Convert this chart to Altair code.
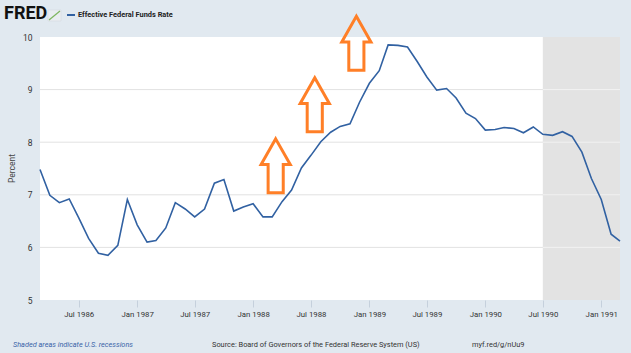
import altair as alt
import pandas as pd

# ---------------- data ----------------
months = pd.date_range("1986-03-01", "1991-03-01", freq="MS").strftime("%Y-%m-%d").tolist()
rates = [7.48, 6.99, 6.85, 6.92, 6.56, 6.17, 5.89, 5.85, 6.04, 6.91,
         6.43, 6.10, 6.13, 6.37, 6.85, 6.73, 6.58, 6.73, 7.22, 7.29, 6.69, 6.77,
         6.83, 6.58, 6.58, 6.87, 7.09, 7.51, 7.75, 8.01, 8.19, 8.30, 8.35, 8.76,
         9.12, 9.36, 9.85, 9.84, 9.81, 9.53, 9.24, 8.99, 9.02, 8.84, 8.55, 8.45,
         8.23, 8.24, 8.28, 8.26, 8.18, 8.29, 8.15, 8.13, 8.20, 8.11, 7.81, 7.31,
         6.91, 6.25, 6.12]

recession_start = ["1990-07-01"]
recession_end = ["1991-03-01"]

grid_levels = [6, 7, 8, 9]
y_ticks = [5, 6, 7, 8, 9, 10]
x_tick_dates = [(1986, 7), (1987, 1), (1987, 7), (1988, 1), (1988, 7), (1989, 1),
                (1989, 7), (1990, 1), (1990, 7), (1991, 1)]

arrow_dates = ["1988-03-12", "1988-07-13", "1988-11-21"]
arrow_levels = [7.55, 8.71, 9.88]

series_name = "Effective Federal Funds Rate"
y_title = "Percent"
logo_text = "FRED"
note_left = "Shaded areas indicate U.S. recessions"
note_mid = "Source: Board of Governors of the Federal Reserve System (US)"
note_right = "myf.red/g/nUu9"

# ---------------- styling ----------------
BG = "#E1E9F0"
LINE = "#3161A2"
ORANGE = "#FF7F27"
FONT = "Roboto"

df = pd.DataFrame({"date": months, "rate": rates})
rec = pd.DataFrame({"start": recession_start, "end": recession_end})
grid = pd.DataFrame({"level": grid_levels})
rec_grid = pd.DataFrame([{"start": s, "end": e, "level": g}
                         for s, e in zip(recession_start, recession_end) for g in grid_levels])
arrows = pd.DataFrame({"date": arrow_dates, "level": arrow_levels})

xscale = alt.Scale(domain=[alt.DateTime(year=1986, month=3, date=1),
                           alt.DateTime(year=1991, month=3, date=1)], nice=False)
yscale = alt.Scale(domain=[5, 10], nice=False, zero=False)

x_axis = alt.Axis(values=[alt.DateTime(year=y, month=m, date=1) for y, m in x_tick_dates],
                  format="%b %Y", labelFont=FONT, labelFontSize=7.8, labelColor="#333333",
                  tickSize=7, tickColor="#C5D0DC", labelPadding=3, domain=False, grid=False,
                  labelFlush=False, title=None)
y_axis = alt.Axis(values=y_ticks, labelFont=FONT, labelFontSize=8.5, labelColor="#333333",
                  tickSize=0, labelPadding=8, domain=False, grid=False,
                  title=y_title, titleFont=FONT, titleFontSize=8.5, titleFontWeight="normal",
                  titleColor="#444444", titleX=-29, titleY=131, titleAngle=270,
                  titleAlign="center", titleBaseline="middle")

shade = alt.Chart(rec).mark_rect(color="#E3E3E3").encode(
    x=alt.X("start:T", scale=xscale, axis=x_axis),
    x2="end:T",
    y=alt.value(0), y2=alt.value(263),
)

grid_rules = alt.Chart(grid).mark_rule(color="#E2E2E2", strokeWidth=1).encode(
    y=alt.Y("level:Q", scale=yscale, axis=y_axis),
    x=alt.value(0), x2=alt.value(580),
)

rec_rules = alt.Chart(rec_grid).mark_rule(color="#F2F2F2", strokeWidth=1).encode(
    x=alt.X("start:T", scale=xscale), x2="end:T",
    y=alt.Y("level:Q", scale=yscale),
)

line = alt.Chart(df).mark_line(color=LINE, strokeWidth=1.6).encode(
    x=alt.X("date:T", scale=xscale),
    y=alt.Y("rate:Q", scale=yscale),
)

ARROW_PATH = "M0,-1 L0.54,-0.05 L0.28,-0.05 L0.28,1 L-0.28,1 L-0.28,-0.05 L-0.54,-0.05 Z"
arrow_marks = alt.Chart(arrows).mark_point(
    shape=ARROW_PATH, filled=False, stroke=ORANGE, strokeWidth=3, size=2916,
    opacity=1, strokeJoin="miter", strokeMiterLimit=10,
).encode(
    x=alt.X("date:T", scale=xscale),
    y=alt.Y("level:Q", scale=yscale),
)


def label(txt, x, y, **kw):
    return alt.Chart(pd.DataFrame({"t": [txt]})).mark_text(align="left", baseline="middle", **kw).encode(
        x=alt.value(x), y=alt.value(y), text="t:N")


one = pd.DataFrame({"k": [0]})
logo = label(logo_text, -36, -23, font=FONT, fontSize=18, fontWeight="bold", color="#111111")
icon = alt.Chart(one).mark_rect(color="#E9EDF1", stroke="#D0D7DE", strokeWidth=0.5).encode(
    x=alt.value(8), x2=alt.value(21), y=alt.value(-27), y2=alt.value(-16))
icon_line = alt.Chart(one).mark_rule(color="#7DB65F", strokeWidth=1.2).encode(
    x=alt.value(9), x2=alt.value(20), y=alt.value(-17), y2=alt.value(-26))
legend_line = alt.Chart(one).mark_rule(color=LINE, strokeWidth=2).encode(
    x=alt.value(27), x2=alt.value(35), y=alt.value(-22))
legend_text = label(series_name, 38, -22, font=FONT, fontSize=7.4, fontWeight="bold", color="#222222")
foot1 = label(note_left, -27, 308, font=FONT, fontSize=7.3, fontStyle="italic", color="#3A64A8")
foot2 = label(note_mid, 172, 308, font=FONT, fontSize=7.4, color="#333333")
foot3 = label(note_right, 432, 308, font=FONT, fontSize=7.4, color="#333333")

chart = alt.layer(
    shade, grid_rules, rec_rules, line, arrow_marks,
    logo, icon, icon_line, legend_line, legend_text, foot1, foot2, foot3,
).properties(
    width=580, height=263,
    autosize=alt.AutoSizeParams(type="none"),
    padding={"left": 40, "top": 37, "right": 11, "bottom": 53},
    background=BG,
).configure_view(fill="white", strokeWidth=0)

chart.save("out.html", embed_options={"renderer": "svg", "actions": False})
